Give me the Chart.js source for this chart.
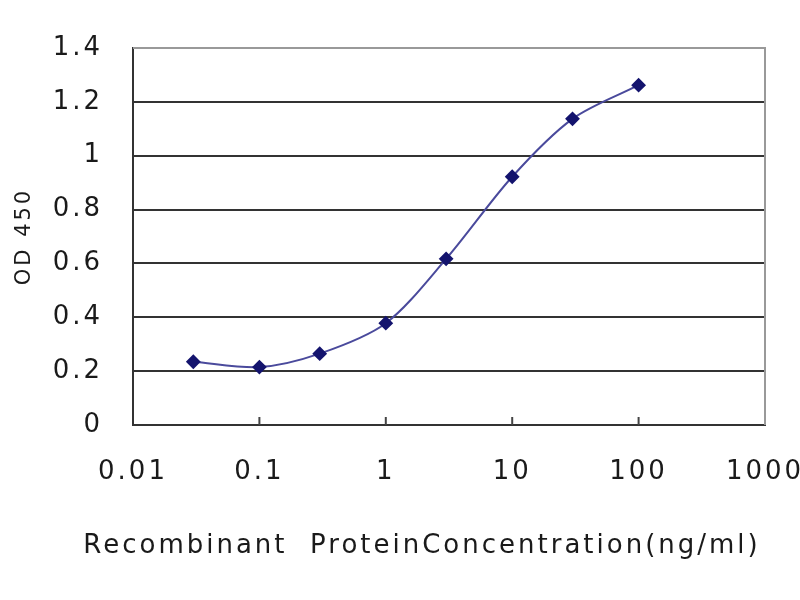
<!DOCTYPE html>
<html>
<head>
<meta charset="utf-8">
<script src="https://cdn.jsdelivr.net/npm/chart.js@4"></script>
<style>
  html, body { margin: 0; padding: 0; background: #fff; }
  #wrap { width: 800px; height: 600px; }
</style>
</head>
<body>
<div id="wrap"><canvas id="odChart"></canvas></div>
<script>
// concentrations (ng/ml) and measured OD 450
const concentrations = [0.03, 0.1, 0.3, 1, 3, 10, 30, 100];
const odValues = [0.235, 0.215, 0.265, 0.378, 0.617, 0.922, 1.137, 1.262];
const xTickValues = [0.01, 0.1, 1, 10, 100, 1000];
const yTickValues = [0, 0.2, 0.4, 0.6, 0.8, 1, 1.2, 1.4];
const xTitle = 'Recombinant  ProteinConcentration(ng/ml)';

const fontFamily = '"DejaVu Sans", "Liberation Sans", sans-serif';

//Letter spacing on the canvas so the text looks as wide as the original.
const spacingPlugin = {
    id: 'spacing',
    beforeInit(chart) { chart.ctx.letterSpacing = '3px'; },
    beforeDraw(chart) { chart.ctx.letterSpacing = '3px'; }
};

//Frame on top/right, little inward ticks on the x axis, and the x title.
//The title is drawn here because chart.js squeezes it to the chart area width,
//and in the original it sits a bit left of the plot centre.
const framePlugin = {
    id: 'frame',
    afterDraw(chart) {
        const ctx = chart.ctx;
        const a = chart.chartArea;
        const xs = chart.scales.x;
        ctx.save();
        ctx.strokeStyle = '#999';
        ctx.lineWidth = 2;
        ctx.beginPath();
        ctx.moveTo(a.left, a.top);
        ctx.lineTo(a.right, a.top);
        ctx.lineTo(a.right, a.bottom);
        ctx.stroke();
        ctx.strokeStyle = '#444';
        xTickValues.slice(1, -1).forEach(v => {
            const px = xs.getPixelForValue(v);
            ctx.beginPath();
            ctx.moveTo(px, a.bottom);
            ctx.lineTo(px, a.bottom - 8);
            ctx.stroke();
        });
        ctx.letterSpacing = '3px';
        ctx.font = '26px ' + fontFamily;
        ctx.fillStyle = '#1a1a1a';
        ctx.textAlign = 'center';
        ctx.textBaseline = 'middle';
        ctx.fillText(xTitle, (a.left + a.right) / 2 - 27, a.bottom + 121);
        ctx.restore();
    }
};

const ctx = document.getElementById('odChart').getContext('2d');

new Chart(ctx, {
    type: 'line',
    data: {
        datasets: [{
            data: concentrations.map((c, i) => ({ x: c, y: odValues[i] })),
            borderColor: '#4a4a9c',
            borderWidth: 2,
            tension: 0.3,
            pointStyle: 'rectRot',
            pointRadius: 6,
            pointBackgroundColor: '#14146e',
            pointBorderColor: '#14146e',
            fill: false
        }]
    },
    options: {
        responsive: true,
        maintainAspectRatio: false,
        animation: false,
        layout: { padding: { top: 48, right: 35, left: 8, bottom: 30 } },
        plugins: {
            legend: { display: false },
            tooltip: { enabled: false }
        },
        scales: {
            x: {
                type: 'logarithmic',
                min: 0.01,
                max: 1000,
                afterBuildTicks(scale) {
                    scale.ticks = xTickValues.map(v => ({ value: v }));
                },
                afterFit(scale) {
                    scale.height = 145;
                    scale.paddingLeft = 0;
                    scale.paddingRight = 0;
                },
                ticks: {
                    color: '#1a1a1a',
                    padding: 24,
                    maxRotation: 0,
                    autoSkip: false,
                    font: { family: fontFamily, size: 26 },
                    callback: v => String(v)
                },
                grid: { display: false },
                border: { display: true, color: '#333', width: 2 },
                title: { display: false }
            },
            y: {
                min: 0,
                max: 1.4,
                afterBuildTicks(scale) {
                    scale.ticks = yTickValues.map(v => ({ value: v }));
                },
                afterFit(scale) {
                    scale.width = 125;
                    scale.paddingTop = 0;
                    scale.paddingBottom = 0;
                },
                ticks: {
                    color: '#1a1a1a',
                    padding: 30,
                    font: { family: fontFamily, size: 26 },
                    callback: v => String(v)
                },
                grid: {
                    color: ctx => ctx.tick && ctx.tick.value === 1.4 ? '#999' : '#333',
                    lineWidth: 2,
                    drawTicks: false
                },
                border: { display: true, color: '#333', width: 2 },
                title: {
                    display: true,
                    text: 'OD 450',
                    color: '#1a1a1a',
                    padding: { bottom: 6 },
                    font: { family: fontFamily, size: 21 }
                }
            }
        }
    },
    plugins: [spacingPlugin, framePlugin]
});
</script>
</body>
</html>
